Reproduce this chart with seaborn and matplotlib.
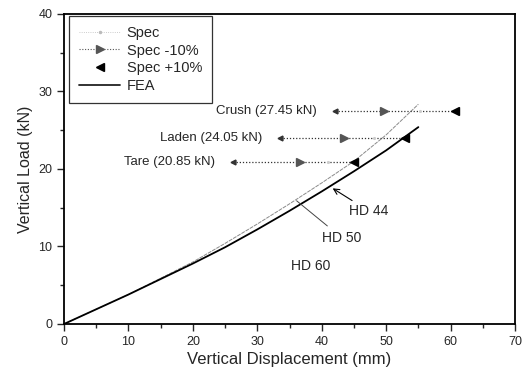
import matplotlib
matplotlib.use("Agg")
import matplotlib.pyplot as plt
import seaborn as sns
import pandas as pd
from matplotlib.lines import Line2D
from matplotlib.ticker import MultipleLocator

# ---- data ----
fea_x = [0, 10, 20, 25, 30, 35, 40, 45, 50, 55]
fea_hd44 = [0, 3.8, 7.8, 9.9, 12.2, 14.6, 17.1, 19.7, 22.4, 25.4]
fea_hd50_x = [0, 10, 20, 25, 30, 35, 40, 45, 50, 55]
fea_hd50 = [0, 3.8, 8.0, 10.4, 12.9, 15.5, 18.2, 21.0, 24.4, 28.35]

load_names = ["Crush (27.45 kN)", "Laden (24.05 kN)", "Tare (20.85 kN)"]
load_levels = [27.45, 24.05, 20.85]
x_start = [42.1, 33.6, 26.3]
x_minus10 = [49.7, 43.4, 36.7]
x_plus10 = [60.7, 52.9, 45.0]
x_spec = [55.2, 48.1, 40.9]

hd_labels = ["HD 44", "HD 50", "HD 60"]

# ---- style ----
sns.set_style("ticks")
plt.rcParams['font.family'] = ['Liberation Sans', 'DejaVu Sans']

fig = plt.figure(figsize=(5.22, 3.74), dpi=100)
ax = fig.add_axes([0.1226, 0.1337, 0.864, 0.829])

df1 = pd.DataFrame({"x": fea_x, "y": fea_hd44})
df2 = pd.DataFrame({"x": fea_hd50_x, "y": fea_hd50})
sns.lineplot(data=df2, x="x", y="y", ax=ax, color="#8a8a8a", lw=0.7,
             linestyle=(0, (4, 1)), sort=True)
sns.lineplot(data=df1, x="x", y="y", ax=ax, color="black", lw=1.3, sort=True)

for name, lv, xs, xm, xp, xsp in zip(load_names, load_levels, x_start,
                                     x_minus10, x_plus10, x_spec):
    ax.plot([xs, xp], [lv, lv], linestyle=(0, (1, 1.5)), color="#333333", lw=0.9)
    ax.plot([xs], [lv], marker="<", ms=3.5, color="#333333", ls="none")
    ax.plot([xm], [lv], marker=">", ms=5.5, color="#555555", ls="none")
    ax.plot([xp], [lv], marker="<", ms=6, color="black", ls="none")
    ax.plot([xsp], [lv], marker=".", ms=2.5, color="#cccccc", ls="none")
    ax.text(xs - 2.9, lv, name, ha="right", va="center", fontsize=9.5)

# HD labels
ax.annotate(hd_labels[0], xy=(41.7, 17.5), xytext=(44.2, 14.6),
            fontsize=10, va="center", ha="left",
            arrowprops=dict(arrowstyle="->", color="black", lw=0.8,
                            shrinkA=0, shrinkB=0))
ax.annotate(hd_labels[1], xy=(36.1, 15.9), xytext=(40.1, 11.1),
            fontsize=10, va="center", ha="left",
            arrowprops=dict(arrowstyle="-", color="#444444", lw=0.7,
                            shrinkA=2, shrinkB=0))
ax.text(35.3, 7.5, hd_labels[2], fontsize=10, va="center", ha="left")

ax.set_xlim(0, 70)
ax.set_ylim(0, 40)
ax.xaxis.set_major_locator(MultipleLocator(10))
ax.xaxis.set_minor_locator(MultipleLocator(5))
ax.yaxis.set_major_locator(MultipleLocator(10))
ax.yaxis.set_minor_locator(MultipleLocator(5))
ax.tick_params(which="major", direction="out", length=5, width=1, labelsize=9)
ax.tick_params(which="minor", direction="out", length=3, width=1)
for s in ax.spines.values():
    s.set_linewidth(1.3)
    s.set_color("black")
ax.set_xlabel("Vertical Displacement (mm)", fontsize=12, labelpad=3)
ax.set_ylabel("Vertical Load (kN)", fontsize=11.5, labelpad=4)

handles = [
    Line2D([], [], color="#bbbbbb", ls=":", marker=".", ms=3, lw=0.6),
    Line2D([], [], color="#555555", ls=(0, (1, 1.5)), marker=">", ms=5.5, lw=0.8),
    Line2D([], [], color="black", ls="none", marker="<", ms=6),
    Line2D([], [], color="#222222", lw=1.3),
]
leg = ax.legend(handles, ["Spec", "Spec -10%", "Spec +10%", "FEA"],
                loc="upper left", bbox_to_anchor=(0.011, 0.995),
                fontsize=10.5, frameon=True, fancybox=False,
                edgecolor="black", borderaxespad=0.0, handlelength=2.8,
                handletextpad=0.45, labelspacing=0.26, borderpad=0.7)
leg.get_frame().set_linewidth(0.9)

fig.savefig("out.png", dpi=100)
